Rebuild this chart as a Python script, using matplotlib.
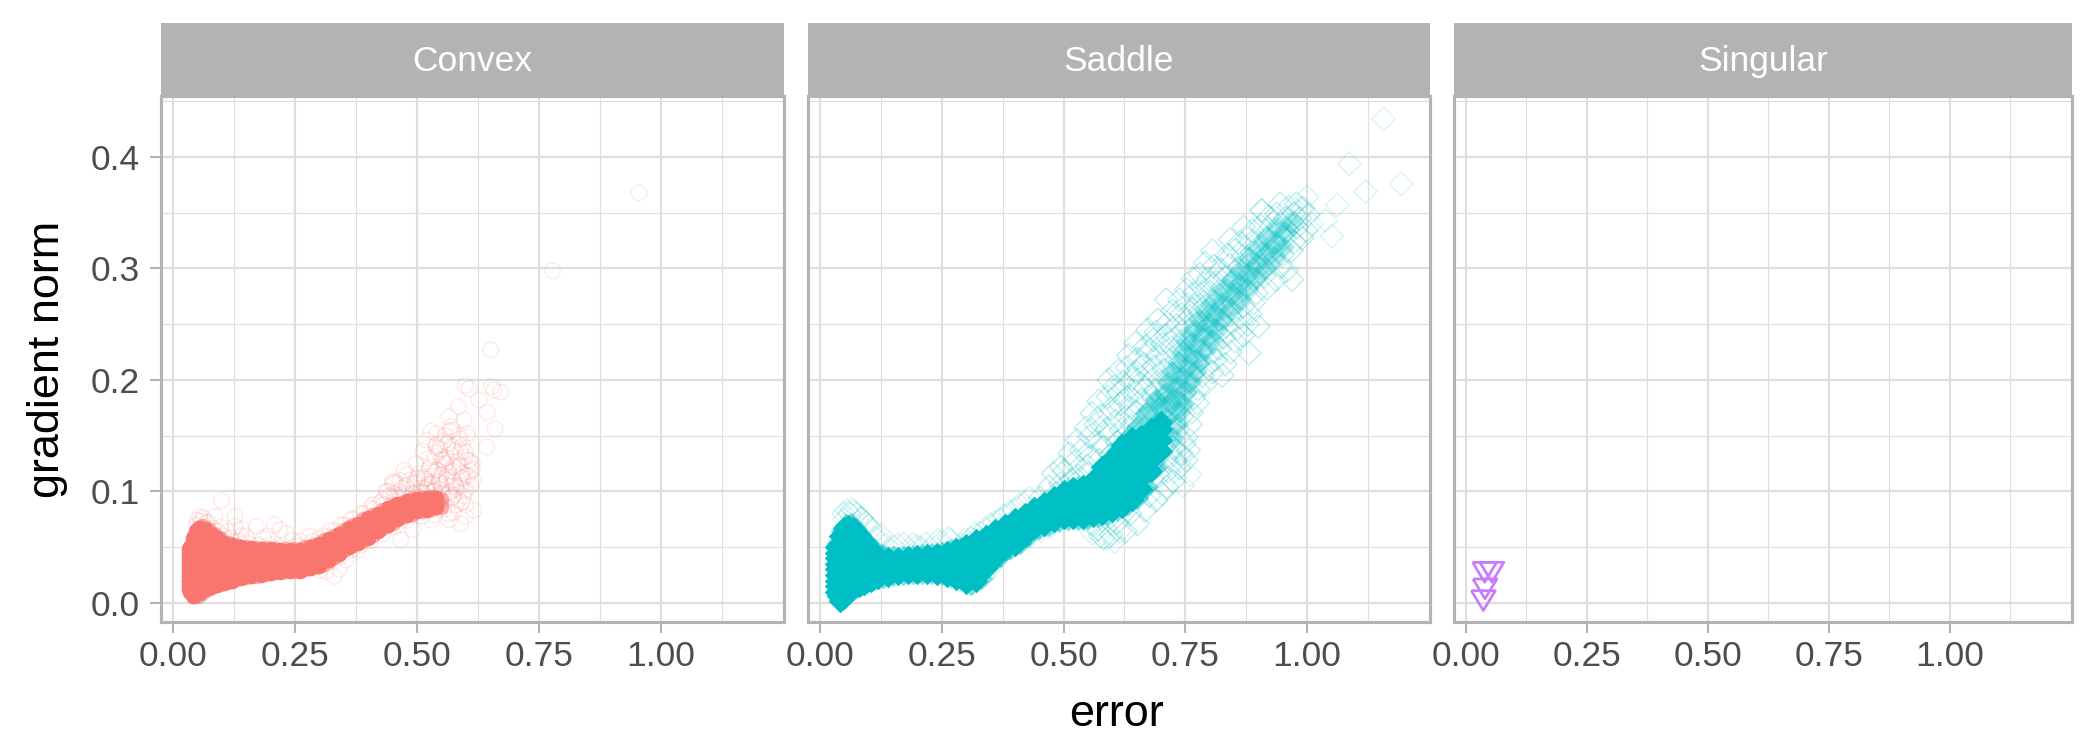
import numpy as np
import matplotlib
matplotlib.use("Agg")
import matplotlib.pyplot as plt

plt.rcParams['font.family'] = ['Liberation Sans', 'DejaVu Sans']

panel_titles = ["Convex", "Saddle", "Singular"]
x_ticks = [0.0, 0.25, 0.5, 0.75, 1.0]
x_tick_labels = ["0.00", "0.25", "0.50", "0.75", "1.00"]
y_ticks = [0.0, 0.1, 0.2, 0.3, 0.4]
y_tick_labels = ["0.0", "0.1", "0.2", "0.3", "0.4"]
x_minor = [0.125, 0.375, 0.625, 0.875, 1.125]
y_minor = [0.05, 0.15, 0.25, 0.35, 0.45]

# dense body of each cloud, read column by column: x, then the y values in that column
convex_core_x = [.033,.034,.040,.048,.056,.066,.078,.090,.105,.120,.140,.160,.180,.200,.220,.240,.260,.280,.300,.320,.340,.360,.380,.400,.420,.440,.460,.480,.500,.520,.540]
convex_core_y = [
 [.012,.016,.020,.024,.028,.032,.036,.040,.044,.048],
 [.010,.018,.026,.034,.042,.050],
 [.006,.014,.022,.030,.038,.046,.054,.058],
 [.008,.016,.024,.032,.040,.048,.056,.064],
 [.010,.018,.026,.034,.042,.050,.058,.067],
 [.012,.020,.028,.036,.044,.052,.060,.066],
 [.014,.022,.030,.038,.046,.054,.062],
 [.016,.024,.032,.040,.048,.058],
 [.018,.026,.034,.042,.050,.054],
 [.020,.028,.036,.044,.052],
 [.022,.030,.038,.046,.050],
 [.024,.032,.040,.049],
 [.025,.033,.041,.048],
 [.027,.035,.043,.048],
 [.028,.036,.044,.047],
 [.029,.037,.047],
 [.029,.037,.047],
 [.031,.040,.050],
 [.033,.043,.053],
 [.038,.048,.057],
 [.044,.053,.062],
 [.050,.059,.067],
 [.054,.063,.071],
 [.058,.067,.076],
 [.064,.072,.080],
 [.070,.078,.085],
 [.075,.082,.089],
 [.079,.085,.091],
 [.082,.088,.093],
 [.083,.089,.094],
 [.086,.090,.094],
]
# points along the rim of the body
convex_rim_x = [.036,.044,.052,.060,.072,.084,.097,.112,.130,.150,.170,.190,.210,.230,.250,.270,.290,.310,.330,.350,.370,.390,.410,.430,.450,.470,.490,.510,.530,.550,
                .036,.044,.052,.060,.072,.084,.097,.112,.130,.150,.170,.190,.210,.230,.250,.270,.290,.310,.330,.350,.370,.390,.410,.430,.450,.470,.490,.510,.530,.550]
convex_rim_y = [.050,.060,.0675,.069,.066,.062,.058,.054,.052,.0505,.0495,.049,.0485,.048,.048,.050,.052,.056,.060,.065,.070,.075,.079,.083,.087,.090,.093,.094,.095,.093,
                .012,.006,.006,.009,.012,.015,.017,.019,.021,.023,.0245,.026,.0275,.0285,.029,.030,.032,.035,.041,.047,.052,.056,.061,.067,.072,.077,.080,.082,.084,.086]
# sparse circles around the body
convex_halo_x = [.955,.778,.651,.599,.607,.653,.672,.658,.627,.644,.660,.643,.566,.585,.597,.567,.529,.540,.604,.512,.539,.573,.614,.559,.498,.474,.505,.539,.593,.617,.450,.573,.532,.495,.437,.600,.586,.617,.600,.590,.566,.530,.491,.467,
 .0995,.055,.086,.127,.127,.140,.171,.208,.219,.140,.195,.280,.232,.331,.341,.314,.355,.379,
 .050,.062,.072,.098,.112,.150,.185,.245,.262,.300,.322,.345,.365,.385,.405,.425,.445,.462,.478,.410,.430,.455,.470,.485,.515,.525,.550,.560,.575,.590,.605,.520,.545,.565,.580,.595,.550,.575,.590,.610,.555,.585,.600,.525,.545,.560,.535,.510,.490,.520,.500,.480,.465,.450,.440,.570,.555,.540,.520,.500,.475,.455,.580,.600,.565,
 .300,.325,.345,.365,.385,.405,.430,.455,.480,.510,.535,.555,.575,
 .048,.058,.068,.080,.092,.104,.118,.135,.155,.175,.198,.225,.255,.285,.312,.332,.352,.372,.392,.412,.432,.452,.472,.492,.512,.532,.552,.572,.592,
 .508,.522,.536,.551,.566,.581,.596,.517,.531,.546,.561,.576,.591,.611,.527,.543,.558,.574,.589,.604,.536,.551,.568,.584,.599,.614,.547,.563,.578,.594,.609,.558,.572,.588,.603]
convex_halo_y = [.368,.298,.227,.195,.192,.194,.189,.191,.182,.171,.156,.140,.167,.176,.164,.154,.154,.152,.149,.136,.140,.140,.125,.125,.125,.119,.116,.119,.116,.110,.109,.110,.107,.107,.100,.101,.0925,.083,.0775,.071,.0745,.074,.0656,.0566,
 .0916,.0775,.0775,.0775,.0686,.0665,.0686,.070,.0656,.060,.060,.060,.062,.0237,.030,.028,.0386,.0476,
 .074,.076,.072,.068,.064,.060,.058,.056,.055,.058,.065,.070,.075,.080,.085,.090,.096,.100,.105,.088,.092,.098,.103,.110,.112,.120,.115,.130,.122,.135,.128,.102,.108,.118,.105,.112,.098,.097,.105,.118,.145,.150,.135,.130,.135,.110,.100,.100,.098,.104,.112,.115,.110,.107,.100,.158,.128,.142,.146,.108,.095,.108,.088,.088,.080,
 .029,.038,.042,.048,.052,.056,.062,.068,.074,.078,.079,.084,.081,
 .070,.073,.072,.067,.064,.060,.058,.055,.053,.052,.052,.051,.051,.055,.060,.065,.070,.075,.080,.084,.088,.091,.095,.098,.099,.100,.098,.095,.090,
 .103,.106,.101,.104,.099,.103,.096,.111,.114,.109,.113,.108,.112,.105,.122,.119,.124,.118,.123,.114,.131,.128,.133,.126,.131,.120,.138,.143,.136,.141,.127,.150,.155,.147,.152]

saddle_core_x = [.033,.036,.042,.050,.058,.068,.080,.090,.105,.120,.140,.160,.180,.200,.220,.240,.260,.280,.300,.320,.340,.360,.380,.400,.420,.440,.460,.480,.500,.520,.540,.560,.580,.600,.620,.640,.660,.680,.700]
saddle_core_y = [
 [.010,.015,.020,.025,.030,.035,.040,.045,.050],
 [.006,.014,.024,.034,.044,.052],
 [.002,.012,.022,.032,.042,.052,.060],
 [.004,.016,.026,.036,.046,.056,.067],
 [.009,.019,.029,.039,.049,.059,.069],
 [.012,.022,.032,.042,.052,.062,.067],
 [.015,.025,.035,.045,.055,.062],
 [.017,.027,.037,.047,.056],
 [.020,.029,.038,.048],
 [.022,.032,.042],
 [.024,.032,.040],
 [.026,.033,.040],
 [.027,.034,.041],
 [.027,.035,.042],
 [.027,.035,.043],
 [.026,.035,.044],
 [.024,.035,.046],
 [.021,.031,.040,.048],
 [.018,.028,.038,.046,.052],
 [.020,.030,.040,.048,.056],
 [.031,.040,.050,.060],
 [.040,.048,.056,.065],
 [.048,.056,.063,.070],
 [.052,.060,.068,.075],
 [.060,.067,.074,.080],
 [.067,.073,.079,.085],
 [.070,.077,.084,.090],
 [.073,.080,.088,.095],
 [.076,.084,.092,.100],
 [.076,.085,.094,.103],
 [.076,.085,.095,.105],
 [.078,.088,.099,.110],
 [.080,.090,.100,.110,.122],
 [.082,.092,.102,.112,.123,.130],
 [.086,.096,.106,.116,.126,.136,.142],
 [.092,.102,.112,.122,.132,.142,.148],
 [.102,.112,.122,.132,.142,.150],
 [.118,.128,.138,.148,.156],
 [.136,.146,.156,.162],
]
saddle_rim_x = [.038,.046,.054,.063,.074,.085,.097,.112,.130,.150,.170,.190,.210,.230,.250,.270,.290,.310,.330,.350,.370,.390,.410,.430,.450,.470,.490,.510,.530,.550,.570,.590,.610,.630,.650,.670,.690,
                .038,.046,.054,.063,.074,.085,.097,.112,.130,.150,.170,.190,.210,.230,.250,.270,.290,.310,.330,.350,.370,.390,.410,.430,.450,.470,.490,.510,.530,.550,.570,.590,.610,.630,.650,.670,.690]
saddle_rim_y = [.054,.064,.070,.071,.066,.060,.054,.047,.043,.041,.041,.042,.043,.044,.045,.047,.049,.052,.056,.060,.065,.070,.075,.080,.085,.090,.095,.100,.104,.106,.112,.125,.136,.147,.158,.170,.182,
                .006,.003,.007,.012,.014,.016,.019,.021,.023,.025,.026,.027,.027,.027,.026,.024,.021,.017,.022,.034,.042,.049,.054,.061,.067,.070,.073,.075,.075,.076,.078,.080,.083,.088,.094,.104,.122]
# diamonds of the rising arm, as (x, y) pairs read band by band
saddle_band = [
 (.598,.061),(.627,.064),(.571,.066),(.652,.071),(.610,.072),(.582,.058),(.637,.080),(.668,.083),(.690,.092),(.557,.071),
 (.441,.084),(.462,.082),(.478,.089),(.452,.094),(.485,.098),(.507,.093),(.676,.096),(.702,.098),(.712,.104),(.725,.109),
 (.470,.104),(.494,.107),(.517,.110),(.479,.116),(.501,.118),(.530,.114),(.552,.116),(.696,.114),(.714,.118),(.738,.121),(.729,.127),
 (.495,.122),(.521,.126),(.548,.123),(.573,.128),(.597,.133),(.692,.130),(.713,.128),(.742,.134),(.752,.128),
 (.512,.134),(.536,.137),(.557,.132),(.582,.139),(.611,.144),(.636,.148),(.702,.142),(.725,.139),(.748,.143),(.757,.137),
 (.528,.146),(.553,.149),(.574,.144),(.595,.151),(.618,.155),(.640,.159),(.666,.156),(.712,.151),(.734,.155),(.752,.149),
 (.546,.157),(.566,.160),(.589,.156),(.607,.163),(.629,.167),(.651,.171),(.679,.173),(.708,.165),(.727,.162),(.743,.167),(.761,.160),
 (.558,.170),(.577,.168),(.597,.174),(.616,.178),(.638,.175),(.660,.182),(.684,.184),(.705,.178),(.723,.174),(.741,.178),(.763,.171),(.775,.179),
 (.572,.181),(.591,.185),(.612,.188),(.629,.184),(.647,.190),(.668,.193),(.689,.191),(.712,.187),(.730,.183),(.749,.188),(.768,.184),
 (.593,.200),(.604,.194),(.622,.198),(.641,.201),(.657,.197),(.676,.204),(.697,.200),(.719,.197),(.737,.193),(.756,.198),(.776,.192),(.791,.196),
 (.612,.208),(.630,.211),(.649,.207),(.666,.214),(.686,.212),(.706,.209),(.724,.205),(.746,.209),(.765,.205),(.785,.204),(.806,.207),(.826,.204),
 (.633,.222),(.652,.219),(.673,.225),(.692,.222),(.713,.219),(.732,.216),(.753,.219),(.773,.215),(.794,.212),(.812,.218),(.832,.214),
 (.648,.233),(.668,.230),(.684,.236),(.703,.232),(.722,.229),(.742,.226),(.761,.230),(.782,.226),(.802,.224),(.820,.228),(.843,.225),(.881,.224),
 (.673,.245),(.690,.243),(.710,.240),(.729,.238),(.748,.237),(.768,.240),(.788,.236),(.808,.234),(.829,.238),(.851,.235),(.869,.240),
 (.694,.254),(.713,.251),(.733,.249),(.752,.247),(.772,.250),(.793,.246),(.813,.244),(.834,.248),(.856,.246),(.878,.250),(.900,.248),
 (.711,.272),(.724,.262),(.742,.259),(.760,.257),(.779,.261),(.800,.257),(.820,.254),(.842,.258),(.862,.256),(.884,.259),
 (.738,.272),(.754,.268),(.771,.266),(.788,.270),(.807,.267),(.827,.264),(.849,.268),(.869,.266),(.890,.269),
 (.752,.281),(.768,.278),(.784,.283),(.801,.279),(.818,.276),(.836,.280),(.856,.277),(.876,.280),(.896,.278),(.918,.282),
 (.766,.291),(.780,.295),(.797,.291),(.814,.288),(.832,.292),(.850,.289),(.871,.292),(.891,.290),(.912,.293),(.936,.290),(.969,.290),
 (.791,.305),(.808,.302),(.823,.299),(.841,.303),(.860,.300),(.880,.303),(.900,.301),(.922,.304),(.944,.302),(.958,.298),
 (.806,.316),(.836,.312),(.852,.316),(.869,.311),(.887,.314),(.907,.312),(.928,.315),(.949,.312),(.968,.316),
 (.842,.326),(.861,.323),(.878,.327),(.895,.323),(.914,.326),(.933,.323),(.954,.327),(.974,.324),(.990,.327),
 (.870,.337),(.888,.334),(.905,.338),(.922,.335),(.941,.338),(.960,.334),(.980,.337),(.998,.334),
 (.907,.352),(.921,.346),(.938,.349),(.955,.345),(.972,.349),(.985,.345),(1.002,.348),
 (.945,.358),(.962,.355),(.978,.358),(.992,.354),
]
# filled overlap along the darker centre of the arm
saddle_center = [
 (.685,.150),(.705,.152),(.725,.148),(.693,.163),(.713,.167),(.733,.160),(.697,.176),(.718,.178),(.738,.172),
 (.708,.188),(.727,.184),(.746,.178),(.712,.198),(.731,.193),(.751,.190),(.722,.207),(.742,.203),(.760,.198),
 (.735,.216),(.754,.212),(.772,.208),(.745,.226),(.763,.222),(.781,.217),(.752,.236),(.771,.232),(.790,.227),
 (.768,.245),(.786,.241),(.804,.236),(.778,.254),(.796,.250),(.814,.246),(.790,.263),(.808,.259),(.826,.255),
 (.808,.272),(.826,.268),(.843,.264),(.828,.281),(.845,.277),(.862,.273),(.843,.290),(.860,.286),(.877,.282),
 (.862,.299),(.878,.295),(.895,.291),(.880,.309),(.897,.304),(.914,.300),(.899,.318),(.916,.314),(.932,.310),
 (.918,.328),(.934,.323),(.950,.319),(.938,.337),(.954,.333),(.968,.341),
]
# diamonds that stand apart
saddle_sparse_x = [1.157,1.087,1.193,1.120,1.062,1.000,.907,1.051,1.038,.987,1.010,.737,.760,.745,.560,.575,.590,.605,.615,.125,.100,.085,.070,.060,.050,.160,.190,.205,.225,.250,.265,.290,.310,.330,.350,.370,.390,.410,.430,.055,.065,.048,.075,.085,.095,.105,.115,.135,.152,.172,.198,.218,.241,.268,.298,.318,.338,.358,.378,.398,.418,.338,.352,.372,.392,.412,.432,.452,.472]
saddle_sparse_y = [.434,.394,.376,.369,.357,.364,.352,.329,.343,.354,.340,.134,.115,.105,.062,.060,.058,.055,.064,.061,.069,.076,.082,.080,.075,.052,.052,.050,.048,.055,.058,.052,.058,.062,.070,.075,.082,.088,.094,.083,.084,.080,.080,.076,.072,.066,.058,.052,.050,.053,.051,.053,.056,.056,.057,.062,.067,.072,.078,.083,.089,.024,.032,.043,.049,.056,.060,.065,.068]

singular_x = [0.0387, 0.0537, 0.0394, 0.0360]
singular_y = [0.0274, 0.0274, 0.0125, 0.0020]

W, H = 2100, 750
fig = plt.figure(figsize=(7, 2.5), dpi=300)
fig.patch.set_facecolor("white")

panels_px = [(161, 784), (808, 1430), (1454, 2072)]
top_px, bottom_px, strip_top_px = 96, 622, 23
xlim = (-0.0246, 1.2525)
ylim = (-0.0172, 0.4547)
GRID = "#DEDEDE"
BORDER = "#B3B3B3"
TXT = "#4D4D4D"

axes = []
for i, (l, r) in enumerate(panels_px):
    ax = fig.add_axes([l / W, 1 - bottom_px / H, (r - l) / W, (bottom_px - top_px) / H])
    ax.set_xlim(*xlim)
    ax.set_ylim(*ylim)
    ax.set_axisbelow(True)
    ax.set_xticks(x_ticks)
    ax.set_xticklabels(x_tick_labels)
    ax.set_yticks(y_ticks)
    ax.set_yticklabels(y_tick_labels if i == 0 else [])
    ax.set_xticks(x_minor, minor=True)
    ax.set_yticks(y_minor, minor=True)
    ax.grid(which="major", color=GRID, lw=0.5)
    ax.grid(which="minor", color=GRID, lw=0.27)
    ax.tick_params(which="minor", length=0)
    ax.tick_params(which="major", color=BORDER, width=0.5, length=2.7, labelcolor=TXT, labelsize=8.5, pad=1.6)
    ax.tick_params(axis="y", which="major", pad=2.3)
    if i > 0:
        ax.tick_params(axis="y", which="major", length=0)
    for s in ax.spines.values():
        s.set_color(BORDER)
        s.set_linewidth(0.75)
        s.set_zorder(5)
    sax = fig.add_axes([l / W, 1 - top_px / H, (r - l) / W, (top_px - strip_top_px) / H])
    sax.set_facecolor(BORDER)
    sax.set_xticks([]); sax.set_yticks([])
    for s in sax.spines.values():
        s.set_visible(False)
    sax.text(0.5, 0.47, panel_titles[i], color="white", fontsize=8.5, ha="center", va="center", transform=sax.transAxes)
    axes.append(ax)

RED, TEAL, PURPLE = "#F8766D", "#00BFC4", "#C77CFF"

# Convex
cx = np.repeat(convex_core_x, [len(c) for c in convex_core_y])
cy = np.concatenate(convex_core_y)
axes[0].scatter(convex_halo_x, convex_halo_y, s=14, marker="o", facecolors="none", edgecolors=RED, alpha=0.16, linewidths=0.3)
axes[0].scatter(convex_rim_x, convex_rim_y, s=14, marker="o", color=RED, alpha=0.55, linewidths=0)
axes[0].scatter(cx, cy, s=14, marker="o", color=RED, linewidths=0)

# Saddle
sx = np.repeat(saddle_core_x, [len(c) for c in saddle_core_y])
sy = np.concatenate(saddle_core_y)
bx, by = np.array(saddle_band).T
mx, my = np.array(saddle_center).T
axes[1].scatter(saddle_sparse_x, saddle_sparse_y, s=16, marker="D", facecolors="none", edgecolors=TEAL, alpha=0.18, linewidths=0.3)
axes[1].scatter(bx, by, s=16, marker="D", facecolors="none", edgecolors=TEAL, alpha=0.25, linewidths=0.35)
axes[1].scatter(mx, my, s=16, marker="D", color=TEAL, alpha=0.32, linewidths=0)
axes[1].scatter(saddle_rim_x, saddle_rim_y, s=16, marker="D", color=TEAL, alpha=0.5, linewidths=0)
axes[1].scatter(sx, sy, s=16, marker="D", color=TEAL, linewidths=0)

# Singular
tri = [(-1, .83), (1, .83), (0, -.83), (-1, .83)]
axes[2].scatter(singular_x, singular_y, s=33, marker=tri, facecolors="none", edgecolors=PURPLE, linewidths=0.65)

fig.text((161 + 2072) / 2 / W, 1 - 714 / H, "error", fontsize=10.8, ha="center", va="center")
fig.text(48 / W, 1 - 359 / H, "gradient norm", fontsize=10.8, rotation=90, ha="center", va="center")

fig.savefig("out.png", dpi=300)
